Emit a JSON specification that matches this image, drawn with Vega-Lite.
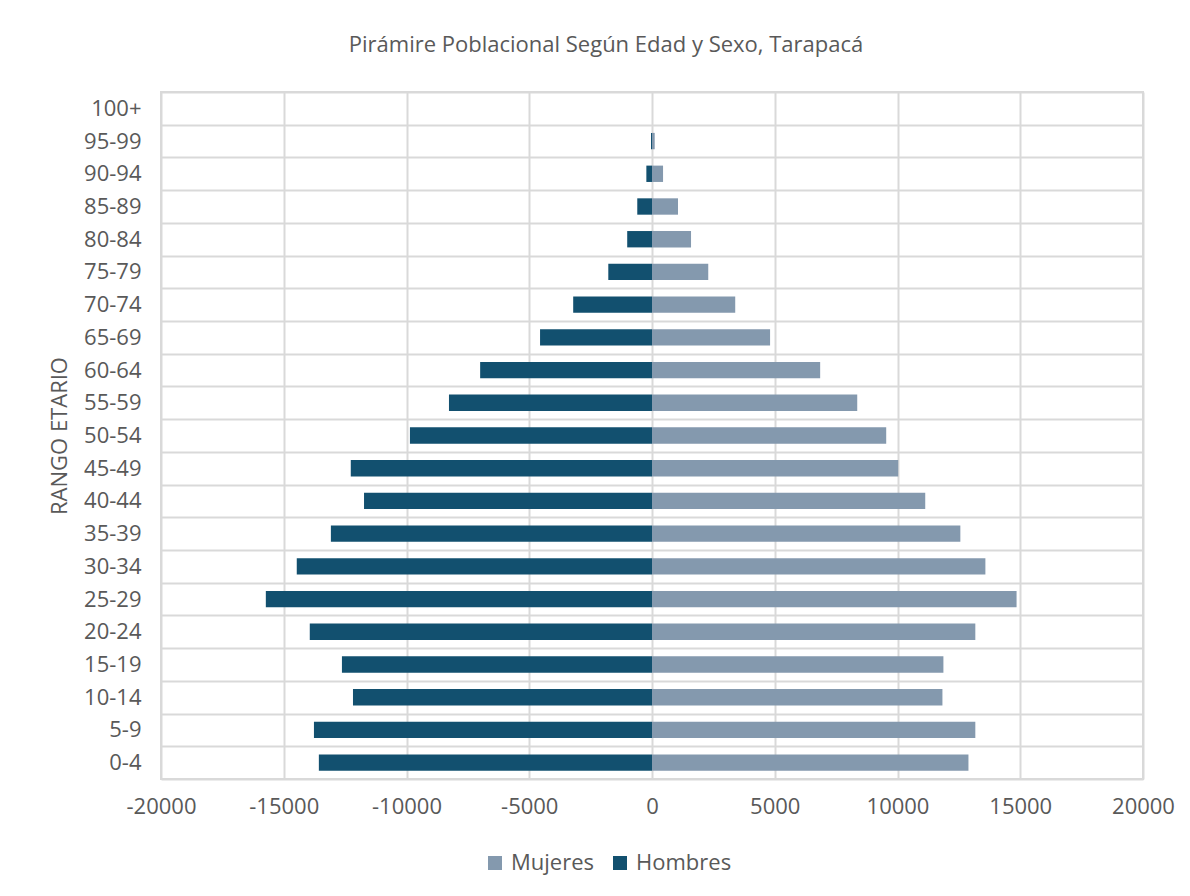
{
  "$schema": "https://vega.github.io/schema/vega-lite/v6.json",
  "autosize": "none",
  "width": 982,
  "height": 687,
  "padding": {"left": 161, "top": 92, "right": 47, "bottom": 117},
  "background": "white",
  "title": {
    "text": "Pirámire Poblacional Según Edad y Sexo, Tarapacá",
    "font": "Open Sans",
    "fontSize": 22,
    "fontWeight": "normal",
    "color": "#595959",
    "anchor": "middle",
    "dx": -46,
    "offset": 24
  },
  "config": {
    "view": {"stroke": "#d9d9d9", "strokeWidth": 2},
    "font": "Open Sans"
  },
  "data": {
    "values": [
      {"edad": "100+", "sexo": "Hombres", "valor": 0},
      {"edad": "100+", "sexo": "Mujeres", "valor": 0},
      {"edad": "95-99", "sexo": "Hombres", "valor": -40},
      {"edad": "95-99", "sexo": "Mujeres", "valor": 110},
      {"edad": "90-94", "sexo": "Hombres", "valor": -230},
      {"edad": "90-94", "sexo": "Mujeres", "valor": 450},
      {"edad": "85-89", "sexo": "Hombres", "valor": -600},
      {"edad": "85-89", "sexo": "Mujeres", "valor": 1060},
      {"edad": "80-84", "sexo": "Hombres", "valor": -1010},
      {"edad": "80-84", "sexo": "Mujeres", "valor": 1590},
      {"edad": "75-79", "sexo": "Hombres", "valor": -1780},
      {"edad": "75-79", "sexo": "Mujeres", "valor": 2290},
      {"edad": "70-74", "sexo": "Hombres", "valor": -3210},
      {"edad": "70-74", "sexo": "Mujeres", "valor": 3390},
      {"edad": "65-69", "sexo": "Hombres", "valor": -4560},
      {"edad": "65-69", "sexo": "Mujeres", "valor": 4810},
      {"edad": "60-64", "sexo": "Hombres", "valor": -7000},
      {"edad": "60-64", "sexo": "Mujeres", "valor": 6850},
      {"edad": "55-59", "sexo": "Hombres", "valor": -8270},
      {"edad": "55-59", "sexo": "Mujeres", "valor": 8360},
      {"edad": "50-54", "sexo": "Hombres", "valor": -9860},
      {"edad": "50-54", "sexo": "Mujeres", "valor": 9540},
      {"edad": "45-49", "sexo": "Hombres", "valor": -12270},
      {"edad": "45-49", "sexo": "Mujeres", "valor": 10030},
      {"edad": "40-44", "sexo": "Hombres", "valor": -11730},
      {"edad": "40-44", "sexo": "Mujeres", "valor": 11130},
      {"edad": "35-39", "sexo": "Hombres", "valor": -13080},
      {"edad": "35-39", "sexo": "Mujeres", "valor": 12560},
      {"edad": "30-34", "sexo": "Hombres", "valor": -14470},
      {"edad": "30-34", "sexo": "Mujeres", "valor": 13580},
      {"edad": "25-29", "sexo": "Hombres", "valor": -15730},
      {"edad": "25-29", "sexo": "Mujeres", "valor": 14850},
      {"edad": "20-24", "sexo": "Hombres", "valor": -13940},
      {"edad": "20-24", "sexo": "Mujeres", "valor": 13170},
      {"edad": "15-19", "sexo": "Hombres", "valor": -12630},
      {"edad": "15-19", "sexo": "Mujeres", "valor": 11870},
      {"edad": "10-14", "sexo": "Hombres", "valor": -12180},
      {"edad": "10-14", "sexo": "Mujeres", "valor": 11830},
      {"edad": "5-9", "sexo": "Hombres", "valor": -13770},
      {"edad": "5-9", "sexo": "Mujeres", "valor": 13170},
      {"edad": "0-4", "sexo": "Hombres", "valor": -13570},
      {"edad": "0-4", "sexo": "Mujeres", "valor": 12890}
    ]
  },
  "mark": {"type": "bar", "height": {"band": 0.5}},
  "encoding": {
    "y": {
      "field": "edad",
      "type": "nominal",
      "sort": ["100+","95-99","90-94","85-89","80-84","75-79","70-74","65-69","60-64","55-59","50-54","45-49","40-44","35-39","30-34","25-29","20-24","15-19","10-14","5-9","0-4"],
      "scale": {"paddingInner": 0, "paddingOuter": 0},
      "axis": {
        "title": "RANGO ETARIO",
        "titleFont": "Open Sans",
        "titleFontSize": 22,
        "titleFontWeight": "normal",
        "titleColor": "#595959",
        "titlePadding": 12,
        "labelFont": "Open Sans",
        "labelFontSize": 22,
        "labelColor": "#595959",
        "labelPadding": 20,
        "ticks": false,
        "domain": false,
        "grid": true,
        "tickBand": "extent",
        "gridColor": "#d9d9d9",
        "gridWidth": 2
      }
    },
    "x": {
      "field": "valor",
      "type": "quantitative",
      "scale": {"domain": [-20000, 20000], "nice": false},
      "axis": {
        "title": null,
        "values": [-20000, -15000, -10000, -5000, 0, 5000, 10000, 15000, 20000],
        "labelExpr": "datum.value + ''",
        "labelFlush": false,
        "labelFont": "Open Sans",
        "labelFontSize": 22,
        "labelColor": "#595959",
        "labelPadding": 17,
        "ticks": false,
        "domain": false,
        "grid": true,
        "gridColor": "#d9d9d9",
        "gridWidth": 2
      }
    },
    "color": {
      "field": "sexo",
      "type": "nominal",
      "scale": {"domain": ["Mujeres", "Hombres"], "range": ["#8499ae", "#12506f"]},
      "legend": {
        "title": null,
        "orient": "none",
        "direction": "horizontal",
        "legendX": 323,
        "legendY": 760,
        "symbolType": "square",
        "symbolSize": 196,
        "symbolOpacity": 1,
        "labelFont": "Open Sans",
        "labelFontSize": 22,
        "labelColor": "#595959",
        "columnPadding": 14,
        "labelOffset": 5
      }
    }
  }
}
